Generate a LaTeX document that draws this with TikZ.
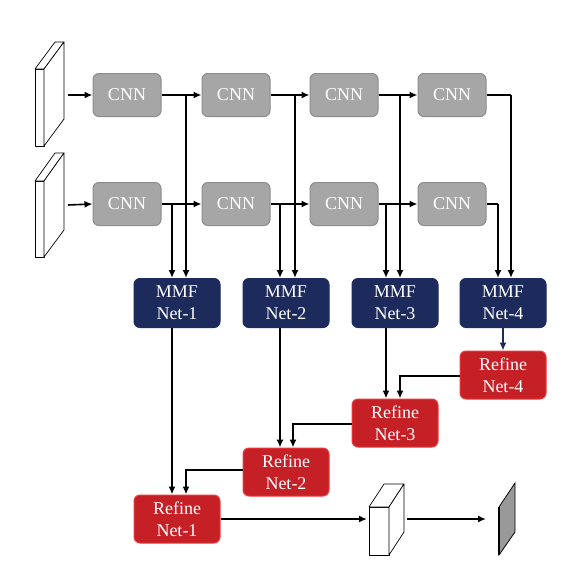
\documentclass[tikz,border=0pt]{standalone}
\usepackage{fontspec}
\setmainfont{Liberation Serif}
\usetikzlibrary{arrows.meta}
\definecolor{cnnfill}{HTML}{A6A6A6}
\definecolor{cnnline}{HTML}{8C8C8C}
\definecolor{mmffill}{HTML}{1C2A5C}
\definecolor{reffill}{HTML}{C42026}
\definecolor{refline}{HTML}{EE3B3B}
\definecolor{slabgray}{HTML}{999999}
\tikzset{
  cnnbox/.style={rectangle, rounded corners=6pt, fill=cnnfill, draw=cnnline, line width=1pt,
    minimum width=68pt, minimum height=43pt, text=white, inner sep=0pt,
    font=\fontsize{18}{22}\selectfont},
  mmfbox/.style={rectangle, rounded corners=6pt, fill=mmffill, draw=mmffill, line width=1pt,
    minimum width=86pt, minimum height=49pt, text=white, inner sep=0pt, align=center,
    font=\fontsize{18}{22}\selectfont},
  refbox/.style={rectangle, rounded corners=6pt, fill=reffill, draw=refline, line width=1pt,
    minimum width=86pt, minimum height=48pt, text=white, inner sep=0pt, align=center,
    font=\fontsize{18}{22}\selectfont},
  arr/.style={line width=1.6pt, -{Latex[length=8pt,width=7pt]}},
  wire/.style={line width=1.6pt},
  slab/.style={line width=0.7pt, fill=white, line join=round},
}
\begin{document}
\begin{tikzpicture}[x=1pt,y=-1pt]
\useasboundingbox (0,0) rectangle (570,579);
% input slabs
\draw[slab] (35,69) rectangle (44,146);
\draw[slab] (35,69) -- (55,42) -- (64,42) -- (44,69) -- cycle;
\draw[slab] (44,69) -- (64,42) -- (64,119) -- (44,146) -- cycle;
\draw[slab] (35,181) rectangle (44,257);
\draw[slab] (35,181) -- (55,153) -- (64,153) -- (44,181) -- cycle;
\draw[slab] (44,181) -- (64,153) -- (64,230) -- (44,257) -- cycle;
\coordinate (in1) at (68,95);
\coordinate (in2) at (68,205);
% CNN rows
\node[cnnbox] (c11) at (127,95) {CNN};
\node[cnnbox] (c12) at (236,95) {CNN};
\node[cnnbox] (c13) at (344,95) {CNN};
\node[cnnbox] (c14) at (452,95) {CNN};
\node[cnnbox] (c21) at (127,204) {CNN};
\node[cnnbox] (c22) at (236,204) {CNN};
\node[cnnbox] (c23) at (344,204) {CNN};
\node[cnnbox] (c24) at (452,204) {CNN};
% MMF
\node[mmfbox] (m1) at (177,303) {MMF\\Net-1};
\node[mmfbox] (m2) at (286,303) {MMF\\Net-2};
\node[mmfbox] (m3) at (395,303) {MMF\\Net-3};
\node[mmfbox] (m4) at (503,303) {MMF\\Net-4};
% Refine
\node[refbox] (r1) at (177,519) {Refine\\Net-1};
\node[refbox] (r2) at (286,472) {Refine\\Net-2};
\node[refbox] (r3) at (395,423) {Refine\\Net-3};
\node[refbox] (r4) at (503,375) {Refine\\Net-4};
% cube and output
\draw[slab] (369,507) rectangle (389,555);
\draw[slab] (369,507) -- (384,484) -- (404,484) -- (389,507) -- cycle;
\draw[slab] (389,507) -- (404,484) -- (404,532) -- (389,555) -- cycle;
\coordinate (cubein) at (367,519);
\coordinate (cubeout) at (407,519);
\coordinate (outin) at (486,519);
\draw[line width=0.8pt, fill=slabgray] (515,483) -- (515,532) -- (499,555) -- (499,507) -- cycle;
\draw[line width=2pt] (499,507) -- (499,555);
% input arrows
\draw[arr] (in1) -- (c11.west);
\draw[arr] (in2) -- (c21.west);
% horizontal CNN arrows
\draw[arr] (c11.east) -- (c12.west);
\draw[arr] (c12.east) -- (c13.west);
\draw[arr] (c13.east) -- (c14.west);
\draw[arr] (c21.east) -- (c22.west);
\draw[arr] (c22.east) -- (c23.west);
\draw[arr] (c23.east) -- (c24.west);
% junctions
\coordinate (t1) at (186,95);
\coordinate (t2) at (295,95);
\coordinate (t3) at (400,95);
\coordinate (t4) at (511,95);
\coordinate (b1) at (172,204);
\coordinate (b2) at (280,204);
\coordinate (b3) at (386,204);
\coordinate (b4) at (498,204);
\draw[arr] (t1) -- (t1 |- m1.north);
\draw[arr] (t2) -- (t2 |- m2.north);
\draw[arr] (t3) -- (t3 |- m3.north);
\draw[wire] (c14.east) -- (t4);
\draw[arr] (t4) -- (t4 |- m4.north);
\draw[arr] (b1) -- (b1 |- m1.north);
\draw[arr] (b2) -- (b2 |- m2.north);
\draw[arr] (b3) -- (b3 |- m3.north);
\draw[wire] (c24.east) -- (b4);
\draw[arr] (b4) -- (b4 |- m4.north);
% MMF to Refine
\draw[arr] (b1 |- m1.south) -- (b1 |- r1.north);
\draw[arr] (b2 |- m2.south) -- (b2 |- r2.north);
\draw[arr] (b3 |- m3.south) -- (b3 |- r3.north);
\draw[line width=1.4pt, draw=mmffill, -{Latex[length=8pt,width=7pt]}] (m4.south) -- (r4.north);
% Refine chain
\coordinate (k1) at (186,470);
\coordinate (k2) at (293,424);
\coordinate (k3) at (400,376);
\draw[arr] (r2.west |- k1) -- (k1) -- (k1 |- r1.north);
\draw[arr] (r3.west |- k2) -- (k2) -- (k2 |- r2.north);
\draw[arr] (r4.west |- k3) -- (k3) -- (k3 |- r3.north);
% output
\draw[arr] (r1.east) -- (cubein);
\draw[arr] (cubeout) -- (outin);
\end{tikzpicture}
\end{document}
